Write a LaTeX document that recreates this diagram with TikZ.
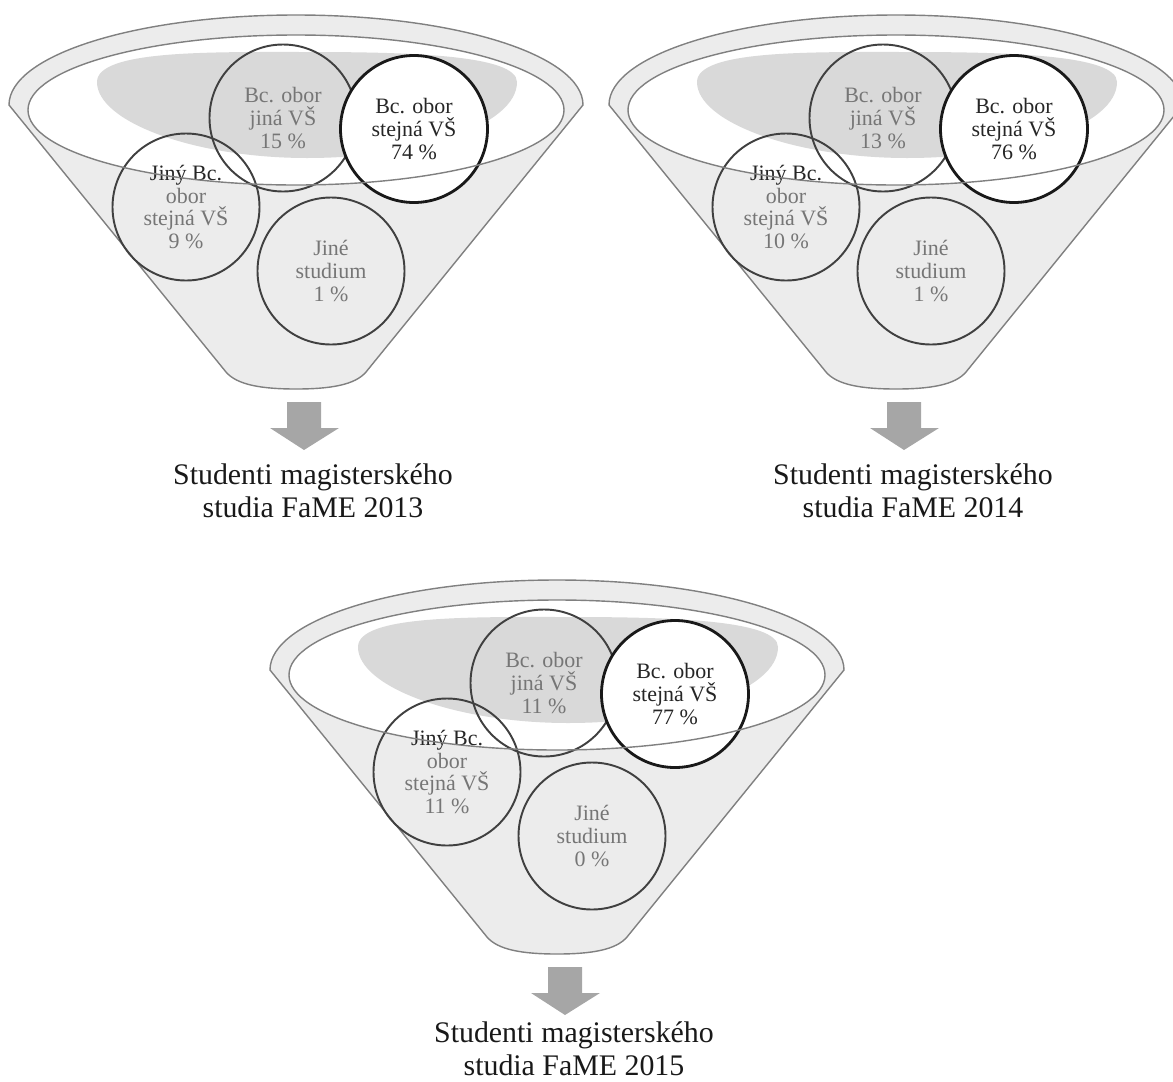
\documentclass[tikz,border=0pt]{standalone}
\usepackage{fontspec}
\setmainfont{Liberation Serif}
\usetikzlibrary{positioning}

\definecolor{funnelgray}{RGB}{236,236,236}
\definecolor{shadegray}{RGB}{217,217,217}
\definecolor{rimgray}{RGB}{128,128,128}
\definecolor{arrowgray}{RGB}{166,166,166}
\definecolor{textgray}{RGB}{118,118,118}
\definecolor{textdark}{RGB}{38,38,38}

\begin{document}
\begin{tikzpicture}[x=0.2mm, y=-0.2mm,
    rim_style/.style={draw=rimgray, line width=0.8pt},
    bubble/.style={circle, draw=black!75, line width=1.1pt, minimum size=29.4mm, inner sep=0pt,
        align=center, font=\fontsize{12.5}{13}\selectfont, text=textgray},
    bubble_main/.style={bubble, fill=white, draw=black!90, line width=1.6pt, text=textdark},
    caption_style/.style={align=center, font=\fontsize{17}{18.5}\selectfont, text=black!90},
    arrow_style/.style={fill=arrowgray},
    pics/funnel/.style={code={
        % outer body of the funnel
        \path[rim_style, fill=funnelgray] (9,105) .. controls (9,55) and (137,15) .. (296,15)
            .. controls (455,15) and (583,55) .. (583,105) -- (366,372)
            .. controls (355,385) and (330,389) .. (296,389)
            .. controls (262,389) and (237,385) .. (226,372) -- cycle;
        % opening and its shadow
        \fill[white] (296,110) ellipse [x radius=53.6mm, y radius=15mm];
        \fill[shadegray] (97,82) .. controls (97,50) and (210,52) .. (307,52)
            .. controls (410,52) and (517,55) .. (517,82)
            .. controls (517,125) and (420,158) .. (307,158)
            .. controls (195,158) and (97,122) .. (97,82) -- cycle;
        % arrow below
        \fill[arrow_style] (287,402) -- (321,402) -- (321,428) -- (339,428) -- (304,450)
            -- (270,428) -- (287,428) -- cycle;
    }},
    pics/rim/.style={code={
        \draw[rim_style] (296,110) ellipse [x radius=53.6mm, y radius=15mm];
    }}
]
\useasboundingbox (0,0) rectangle (1173,1082);

% Funnel 2013 (top left)
\begin{scope}
    \pic at (0,0) {funnel};
    \node[bubble] (jina1) at (283,118) {Bc. obor\\jiná VŠ\\15 \%};
    \node[bubble_main] (stejna1) at (414,129) {Bc. obor\\stejná VŠ\\74 \%};
    \node[bubble] (jiny1) at (186,207) {\textcolor{textdark}{Jiný Bc.}\\obor\\stejná VŠ\\9 \%};
    \node[bubble] (jine1) at (331,271) {Jiné\\studium\\1 \%};
    \pic at (0,0) {rim};
    \node[caption_style] (cap1) at (313,491) {Studenti magisterského\\studia FaME 2013};
\end{scope}

% Funnel 2014 (top right)
\begin{scope}[shift={(600,0)}]
    \pic at (0,0) {funnel};
    \node[bubble] (jina2) at (283,118) {Bc. obor\\jiná VŠ\\13 \%};
    \node[bubble_main] (stejna2) at (414,129) {Bc. obor\\stejná VŠ\\76 \%};
    \node[bubble] (jiny2) at (186,207) {\textcolor{textdark}{Jiný Bc.}\\obor\\stejná VŠ\\10 \%};
    \node[bubble] (jine2) at (331,271) {Jiné\\studium\\1 \%};
    \pic at (0,0) {rim};
    \node[caption_style] (cap2) at (313,491) {Studenti magisterského\\studia FaME 2014};
\end{scope}

% Funnel 2015 (bottom)
\begin{scope}[shift={(261,565)}]
    \pic at (0,0) {funnel};
    \node[bubble] (jina3) at (283,118) {Bc. obor\\jiná VŠ\\11 \%};
    \node[bubble_main] (stejna3) at (414,129) {Bc. obor\\stejná VŠ\\77 \%};
    \node[bubble] (jiny3) at (186,207) {\textcolor{textdark}{Jiný Bc.}\\obor\\stejná VŠ\\11 \%};
    \node[bubble] (jine3) at (331,271) {Jiné\\studium\\0 \%};
    \pic at (0,0) {rim};
    \node[caption_style] (cap3) at (313,484) {Studenti magisterského\\studia FaME 2015};
\end{scope}

\end{tikzpicture}
\end{document}
